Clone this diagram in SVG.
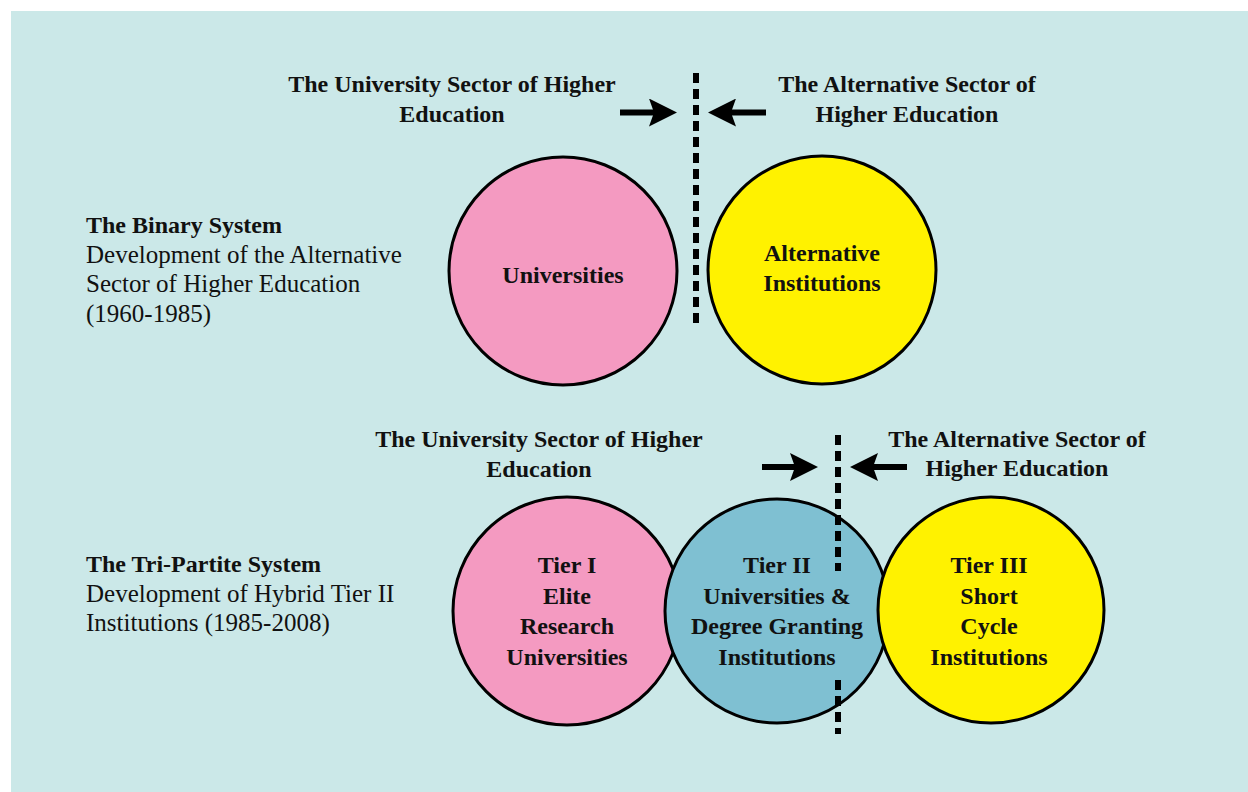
<svg xmlns="http://www.w3.org/2000/svg" width="1248" height="792" viewBox="0 0 1248 792">
<style>
.b{font-family:"Liberation Serif","Times New Roman",serif;font-weight:bold;font-size:24px;fill:#111;}
.bc{font-family:"Liberation Serif","Times New Roman",serif;font-weight:bold;font-size:24px;fill:#111;text-anchor:middle;}
.r{font-family:"Liberation Serif","Times New Roman",serif;font-size:25px;fill:#111;}
.c{stroke:#000;stroke-width:3;}
.dash{stroke:#000;stroke-width:6;stroke-dasharray:10 6;fill:none;}
.arr{stroke:#000;stroke-width:6;fill:none;marker-end:url(#ah);}
</style>
<defs>
<marker id="ah" markerUnits="userSpaceOnUse" markerWidth="28" markerHeight="28" viewBox="0 0 28 28" refX="5" refY="14" orient="auto">
<path d="M0,0 L28,14 L0,28 L5,14 Z" fill="#000"/>
</marker>
</defs>
<rect x="0" y="0" width="1248" height="792" fill="#ffffff"/>
<rect x="11" y="11" width="1237" height="781" fill="#cbe8e8"/>

<g id="binary-label">
<text class="b" x="86" y="233">The Binary System</text>
<text class="r" x="86" y="262.5">Development of the Alternative</text>
<text class="r" x="86" y="292">Sector of Higher Education</text>
<text class="r" x="86" y="321.5">(1960-1985)</text>
</g>
<g id="tripartite-label">
<text class="b" x="86" y="572">The Tri-Partite System</text>
<text class="r" x="86" y="601.5">Development of Hybrid Tier II</text>
<text class="r" x="86" y="631">Institutions (1985-2008)</text>
</g>

<g id="top-univ-sector">
<text class="bc" x="452" y="92">The University Sector of Higher</text>
<text class="bc" x="452" y="122">Education</text>
</g>
<g id="top-alt-sector">
<text class="bc" x="907" y="92">The Alternative Sector of</text>
<text class="bc" x="907" y="122">Higher Education</text>
</g>

<g id="universities">
<circle class="c" cx="563" cy="271" r="114" fill="#f49ac1"/>
<text class="bc" x="563" y="283">Universities</text>
</g>
<g id="alternative-institutions">
<circle class="c" cx="822" cy="270" r="114" fill="#fff200"/>
<text class="bc" x="822" y="261">Alternative</text>
<text class="bc" x="822" y="291">Institutions</text>
</g>

<g id="bottom-univ-sector">
<text class="bc" x="539" y="447">The University Sector of Higher</text>
<text class="bc" x="539" y="477">Education</text>
</g>
<g id="bottom-alt-sector">
<text class="bc" x="1017" y="447">The Alternative Sector of</text>
<text class="bc" x="1017" y="476">Higher Education</text>
</g>

<g id="tier1">
<circle class="c" cx="567" cy="611" r="114" fill="#f49ac1"/>
<text class="bc" x="567" y="573">Tier I</text>
<text class="bc" x="567" y="604">Elite</text>
<text class="bc" x="567" y="634">Research</text>
<text class="bc" x="567" y="665">Universities</text>
</g>
<g id="tier2">
<circle class="c" cx="777" cy="611" r="112" fill="#7fc0d2"/>
<text class="bc" x="777" y="573">Tier II</text>
<text class="bc" x="777" y="604">Universities &amp;</text>
<text class="bc" x="777" y="634">Degree Granting</text>
<text class="bc" x="777" y="665">Institutions</text>
</g>
<g id="tier3">
<circle class="c" cx="991" cy="610" r="113" fill="#fff200"/>
<text class="bc" x="989" y="573">Tier III</text>
<text class="bc" x="989" y="604">Short</text>
<text class="bc" x="989" y="634">Cycle</text>
<text class="bc" x="989" y="665">Institutions</text>
</g>

<g id="connectors">
<line class="dash" x1="696" y1="73" x2="696" y2="329"/>
<line class="arr" x1="620" y1="112.5" x2="654" y2="112.5"/>
<line class="arr" x1="766" y1="112.5" x2="731" y2="112.5"/>
<line class="dash" x1="838" y1="435" x2="838" y2="571"/>
<line class="dash" x1="838" y1="680" x2="838" y2="734"/>
<line class="arr" x1="762" y1="467" x2="795" y2="467"/>
<line class="arr" x1="907" y1="467" x2="873" y2="467"/>
</g>
</svg>
